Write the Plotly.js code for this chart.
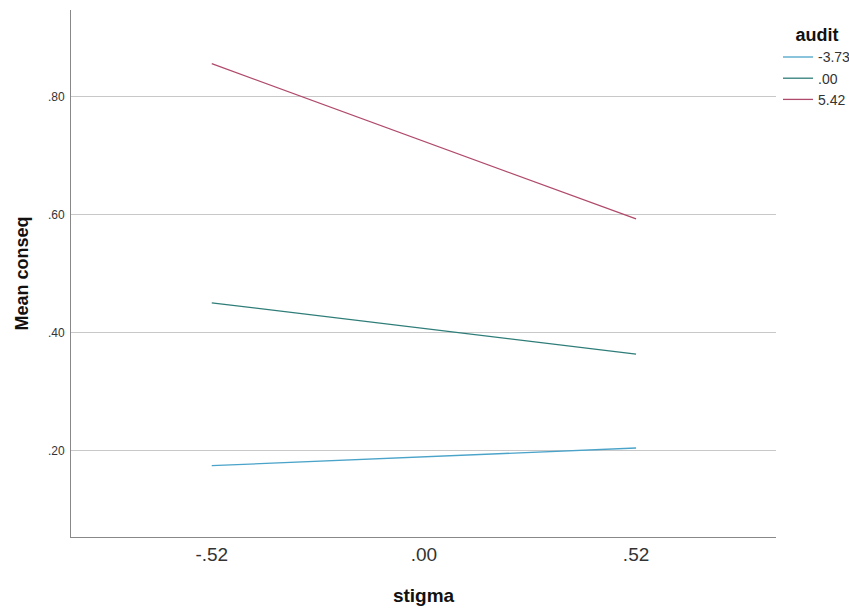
<!DOCTYPE html>
<html><head><meta charset="utf-8">
<script src="https://cdn.plot.ly/plotly-3.0.1.min.js"></script>
<style>html,body{margin:0;padding:0;background:#fff}#chart{width:849px;height:611px}</style>
</head><body><div id="chart"></div>
<script>
const stigmaValues = [-0.52, 0.52];
const xTickVals = [-0.52, 0, 0.52];
const xTickText = ["-.52", ".00", ".52"];
const yTickVals = [0.2, 0.4, 0.6, 0.8];
const yTickText = [".20", ".40", ".60", ".80"];
const seriesNames = ["-3.73", ".00", "5.42"];
const seriesLow = [0.175, 0.205];
const seriesMid = [0.451, 0.364];
const seriesHigh = [0.856, 0.593];
const colors = ["#4aa3c9", "#2e7d78", "#b04a6a"];

const allSeries = [seriesLow, seriesMid, seriesHigh];
const traces = allSeries.map((vals, i) => ({
  x: stigmaValues, y: vals, type: 'scatter', mode: 'lines',
  name: seriesNames[i], line: {color: colors[i], width: 1.3}
}));
const font = "Liberation Sans, Arial, sans-serif";
const layout = {
  width: 849, height: 611,
  margin: {l: 71, r: 73, t: 10, b: 74},
  paper_bgcolor: '#fff', plot_bgcolor: '#fff',
  font: {family: font, color: '#222'},
  showlegend: true,
  legend: {xref: 'container', yref: 'container', x: 778/849, xanchor: 'left', y: 1 - 18/611, yanchor: 'top',
    bgcolor: 'rgba(0,0,0,0)',
    title: {text: '<b>audit</b>', side: 'top center', font: {size: 18, color: '#111'}},
    font: {size: 14, color: '#333'}, tracegroupgap: 0, itemwidth: 30},
  xaxis: {range: [-0.865, 0.863], tickvals: xTickVals, ticktext: xTickText,
    showgrid: false, zeroline: false, showline: true, linecolor: '#888', linewidth: 1,
    ticks: '', tickfont: {size: 19, color: '#333'},
    title: {text: '<b>stigma</b>', font: {size: 19, color: '#111'}, standoff: 24}},
  yaxis: {range: [0.0542, 0.947], tickvals: yTickVals, ticktext: yTickText,
    showgrid: true, gridcolor: '#c8c8c8', gridwidth: 1, zeroline: false,
    showline: true, linecolor: '#888', linewidth: 1, ticks: '',
    tickfont: {size: 12, color: '#333'}, ticklabelstandoff: 3,
    title: {text: '<b>Mean conseq</b>', font: {size: 18, color: '#111'}, standoff: 14}}
};
Plotly.newPlot('chart', traces, layout, {displayModeBar: false, staticPlot: true});
</script></body></html>
